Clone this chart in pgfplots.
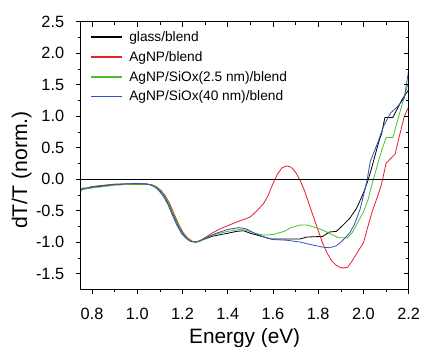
\documentclass[border=0pt]{standalone}
\usepackage{fontspec}
\setmainfont{Liberation Sans}
\usepackage{pgfplots}
\pgfplotsset{compat=1.18}
\definecolor{lgred}{RGB}{232,30,40}
\definecolor{lggreen}{RGB}{80,190,40}
\definecolor{lgblue}{RGB}{50,80,190}
\pgfplotsset{
  commonax/.style={
    at={(0,0)}, anchor=south west,
    scale only axis, width=328pt, height=267.6pt,
    xmin=0.75, xmax=2.2, ymin=-1.75, ymax=2.5,
    xtick={0.8,1.0,1.2,1.4,1.6,1.8,2.0,2.2}, minor x tick num=1,
    ytick={-1.5,-1.0,-0.5,0,0.5,1.0,1.5,2.0,2.5}, minor y tick num=1,
    major tick length=5pt, minor tick length=3pt,
    tick style={black, line width=0.6pt},
    axis line style={line width=0.8pt},
  }
}
\newcommand\legfont{\fontsize{13.7}{16}\selectfont}
\begin{document}
\begin{tikzpicture}
\begin{axis}[
  commonax,
  tick align=outside, xtick pos=bottom, ytick pos=left,
  xticklabel style={font=\fontsize{16.3}{18}\selectfont, anchor=north, inner sep=0pt, yshift=-13.4pt},
  yticklabel style={font=\fontsize{16.3}{18}\selectfont, anchor=east, inner sep=0pt, xshift=-11.4pt},
  /pgf/number format/.cd, fixed, fixed zerofill, precision=1, assume math mode=true, /pgfplots/.cd,
  xlabel={Energy (eV)},
  xlabel style={font=\fontsize{20.8}{24}\selectfont, at={(axis description cs:0.5,0)}, anchor=base, inner sep=0pt, yshift=-54pt},
  ylabel={dT/T (norm.)},
  ylabel style={font=\fontsize{21.2}{24}\selectfont, at={(axis description cs:-0.1637,0.446)}, anchor=base, inner sep=0pt},
  every axis plot/.append style={line width=0.8pt},
  legend style={at={(axis description cs:0.0192,0.98)}, anchor=north west, draw=none, fill=none,
    font=\legfont, row sep=4.5pt, column sep=0pt},
  legend cell align=left,
  legend image code/.code={\draw[#1, line width=1.5pt] (0pt,0pt) -- (31pt,0pt); \path (36pt,0pt);},
]
\addplot[color=black] coordinates {
(0.75,-0.18)(0.756,-0.16)(0.78,-0.15)(0.80,-0.13)(0.85,-0.11)(0.90,-0.09)(0.95,-0.085)(1.00,-0.08)(1.04,-0.08)(1.06,-0.09)(1.08,-0.12)(1.10,-0.18)(1.12,-0.27)(1.14,-0.40)(1.16,-0.57)(1.18,-0.73)(1.20,-0.86)(1.22,-0.94)(1.24,-0.99)(1.26,-1.00)(1.28,-0.98)(1.30,-0.95)(1.33,-0.91)(1.37,-0.88)(1.40,-0.86)(1.44,-0.83)(1.47,-0.82)(1.50,-0.86)(1.55,-0.91)(1.59,-0.95)(1.65,-0.95)(1.72,-0.95)(1.75,-0.92)(1.82,-0.91)(1.85,-0.84)(1.88,-0.83)(1.91,-0.73)(1.94,-0.62)(1.97,-0.46)(2.00,-0.22)(2.02,-0.02)(2.03,0.10)(2.05,0.36)(2.07,0.62)(2.08,0.72)(2.095,0.98)(2.13,0.98)(2.17,1.26)(2.2,1.42)};
\addlegendentry{glass/blend}
\addplot[color=lgred] coordinates {
(0.75,-0.17)(0.76,-0.15)(0.78,-0.14)(0.80,-0.12)(0.85,-0.10)(0.90,-0.08)(0.95,-0.075)(1.00,-0.07)(1.04,-0.075)(1.065,-0.09)(1.085,-0.12)(1.105,-0.18)(1.125,-0.27)(1.145,-0.40)(1.165,-0.57)(1.185,-0.73)(1.205,-0.86)(1.225,-0.94)(1.245,-0.99)(1.265,-1.00)(1.285,-0.97)(1.30,-0.93)(1.33,-0.86)(1.36,-0.80)(1.40,-0.74)(1.44,-0.68)(1.48,-0.63)(1.50,-0.60)(1.53,-0.50)(1.56,-0.38)(1.58,-0.25)(1.60,-0.07)(1.62,0.08)(1.64,0.18)(1.66,0.21)(1.68,0.19)(1.70,0.11)(1.72,-0.02)(1.74,-0.19)(1.76,-0.40)(1.78,-0.61)(1.80,-0.82)(1.82,-1.02)(1.84,-1.18)(1.86,-1.30)(1.88,-1.37)(1.90,-1.41)(1.92,-1.41)(1.93,-1.40)(1.95,-1.30)(1.97,-1.18)(2.00,-1.01)(2.02,-0.75)(2.04,-0.50)(2.06,-0.30)(2.08,-0.08)(2.10,0.25)(2.14,0.40)(2.16,0.70)(2.18,0.99)(2.2,1.15)};
\addlegendentry{AgNP/blend}
\addplot[color=lggreen] coordinates {
(0.75,-0.19)(0.76,-0.16)(0.78,-0.15)(0.80,-0.14)(0.85,-0.12)(0.90,-0.095)(0.95,-0.085)(1.00,-0.08)(1.04,-0.08)(1.062,-0.09)(1.082,-0.12)(1.102,-0.18)(1.122,-0.27)(1.142,-0.40)(1.162,-0.57)(1.182,-0.73)(1.202,-0.86)(1.222,-0.94)(1.242,-0.99)(1.262,-1.00)(1.282,-0.98)(1.30,-0.94)(1.35,-0.87)(1.40,-0.83)(1.45,-0.80)(1.48,-0.81)(1.52,-0.86)(1.56,-0.89)(1.60,-0.88)(1.65,-0.83)(1.68,-0.77)(1.72,-0.73)(1.75,-0.73)(1.78,-0.76)(1.82,-0.81)(1.86,-0.88)(1.89,-0.93)(1.93,-0.93)(1.95,-0.85)(1.97,-0.72)(2.00,-0.52)(2.02,-0.33)(2.04,-0.05)(2.06,0.20)(2.08,0.45)(2.10,0.66)(2.13,0.66)(2.16,1.05)(2.18,1.30)(2.2,1.55)};
\addlegendentry{AgNP/SiOx(2.5 nm)/blend}
\addplot[color=lgblue] coordinates {
(0.75,-0.17)(0.76,-0.14)(0.78,-0.14)(0.80,-0.12)(0.85,-0.10)(0.90,-0.085)(0.95,-0.075)(1.00,-0.07)(1.035,-0.075)(1.055,-0.09)(1.075,-0.12)(1.095,-0.18)(1.115,-0.27)(1.135,-0.40)(1.155,-0.57)(1.175,-0.73)(1.195,-0.86)(1.215,-0.94)(1.235,-0.99)(1.255,-1.00)(1.275,-0.98)(1.30,-0.93)(1.35,-0.86)(1.40,-0.80)(1.45,-0.77)(1.48,-0.79)(1.52,-0.86)(1.56,-0.92)(1.60,-0.96)(1.66,-0.97)(1.72,-1.00)(1.78,-1.05)(1.82,-1.08)(1.85,-1.09)(1.88,-1.06)(1.90,-1.00)(1.92,-0.93)(1.94,-0.85)(1.96,-0.72)(1.985,-0.48)(2.00,-0.26)(2.015,-0.04)(2.03,0.28)(2.06,0.55)(2.09,0.85)(2.12,1.05)(2.15,1.15)(2.18,1.28)(2.2,1.73)};
\addlegendentry{AgNP/SiOx(40 nm)/blend}
\addplot[black, line width=1pt, forget plot] coordinates {(0.75,0)(2.2,0)};
\end{axis}
\begin{axis}[
  commonax,
  tick align=inside, xtick pos=top, ytick pos=right,
  xticklabels={}, yticklabels={},
]
\end{axis}
\pgfresetboundingbox
\path (-80.7pt,-57.7pt) rectangle (341.3pt,289.3pt);
\end{tikzpicture}
\end{document}
